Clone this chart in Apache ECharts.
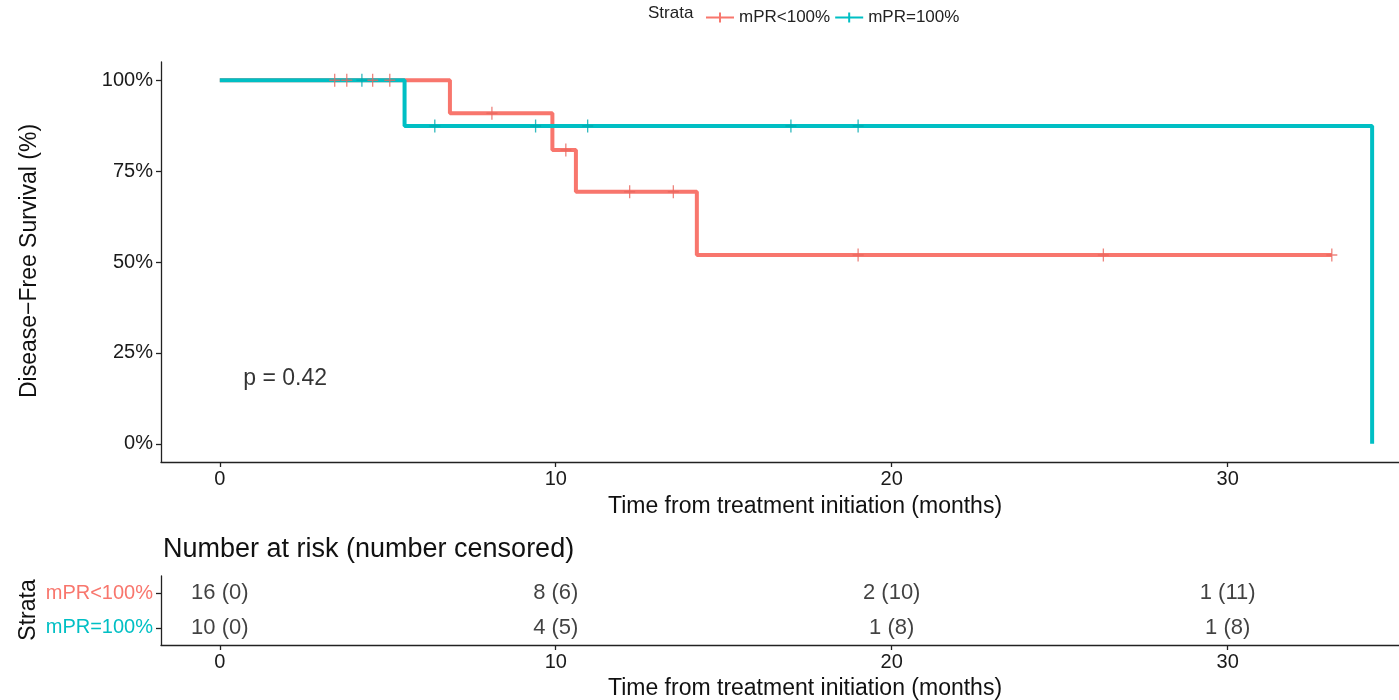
<!DOCTYPE html>
<html>
<head>
<meta charset="utf-8">
<script src="https://cdn.jsdelivr.net/npm/echarts@6/dist/echarts.min.js"></script>
<style>html,body{margin:0;padding:0;background:#fff;}#c{width:1399px;height:700px;}</style>
</head>
<body>
<div id="c"></div>
<script>
// ---- data ----
var strata = ['mPR<100%', 'mPR=100%'];
var colors = ['#F8766D', '#00BFC4'];
var xTicks = [0, 10, 20, 30];
var yTicks = [0, 25, 50, 75, 100];

// step survival curves [months, survival %]
var curveLow = [[0, 100], [6.85, 90.9], [9.9, 80.8], [10.6, 69.3], [14.2, 51.9], [33.1, 51.9]];
var curveFull = [[0, 100], [5.5, 87.4], [34.3, 87.4], [34.3, 0]];

// censor marks [months, survival %]
var censorLow = [[3.42, 100], [3.78, 100], [4.55, 100], [5.06, 100], [8.1, 90.9], [10.3, 80.8],
                 [12.2, 69.3], [13.5, 69.3], [19.0, 51.9], [26.3, 51.9], [33.1, 51.9]];
var censorFull = [[4.23, 100], [6.4, 87.4], [9.4, 87.4], [10.95, 87.4], [17.0, 87.4], [19.0, 87.4]];

// number at risk table
var riskTimes = [0, 10, 20, 30];
var riskLow = ['16 (0)', '8 (6)', '2 (10)', '1 (11)'];
var riskFull = ['10 (0)', '4 (5)', '1 (8)', '1 (8)'];

var pText = 'p = 0.42';
var pPos = [0.7, 18];

// ---- chart ----
var FONT = '"Liberation Sans", Arial, sans-serif';
var plusPath = 'path://M-0.12,-1H0.12V-0.12H1V0.12H0.12V1H-0.12V0.12H-1V-0.12H-0.12Z';
var legendIcon = 'path://M0,4H13V0H15V4H28V6H15V10H13V6H0Z';

function riskData(vals, row) {
  return riskTimes.map(function (t, i) { return [t, row, vals[i]]; });
}

var xMin = -1.75, xMax = 35.1;
var axisLineStyle = { color: '#222', width: 1.3 };

var option = {
  animation: false,
  backgroundColor: '#fff',
  textStyle: { fontFamily: FONT },
  legend: {
    left: 701, top: 4,
    itemWidth: 28, itemHeight: 10, itemGap: 5,
    textStyle: { fontSize: 17, color: '#222', fontFamily: FONT },
    data: [
      { name: strata[0], icon: legendIcon, itemStyle: { color: colors[0] } },
      { name: strata[1], icon: legendIcon, itemStyle: { color: colors[1] } }
    ]
  },
  grid: [
    { left: 161, top: 62, width: 1238, height: 400 },
    { left: 161, top: 576, width: 1238, height: 69 }
  ],
  xAxis: [
    {
      gridIndex: 0, type: 'value', min: xMin, max: xMax,
      axisLine: { show: true, onZero: false, lineStyle: axisLineStyle },
      axisTick: { show: true, length: 5, lineStyle: axisLineStyle, customValues: xTicks },
      axisLabel: { fontSize: 20, color: '#1a1a1a', margin: 7, customValues: xTicks },
      splitLine: { show: false }
    },
    {
      gridIndex: 1, type: 'value', min: xMin, max: xMax,
      axisLine: { show: true, onZero: false, lineStyle: axisLineStyle },
      axisTick: { show: true, length: 5, lineStyle: axisLineStyle, customValues: xTicks },
      axisLabel: { fontSize: 20, color: '#1a1a1a', margin: 7, customValues: xTicks },
      splitLine: { show: false }
    }
  ],
  yAxis: [
    {
      gridIndex: 0, type: 'value', min: -5, max: 105,
      axisLine: { show: true, onZero: false, lineStyle: axisLineStyle },
      axisTick: { show: true, length: 5, lineStyle: axisLineStyle, customValues: yTicks },
      axisLabel: { fontSize: 20, color: '#1a1a1a', margin: 8, customValues: yTicks,
        formatter: function (v) { return v + '%'; } },
      splitLine: { show: false }
    },
    {
      gridIndex: 1, type: 'category', data: strata, inverse: true,
      axisLine: { show: true, onZero: false, lineStyle: axisLineStyle },
      axisTick: { show: true, length: 5, alignWithLabel: true, lineStyle: axisLineStyle },
      axisLabel: {
        fontSize: 20, margin: 8,
        formatter: function (v, i) { return '{s' + i + '|' + v + '}'; },
        rich: { s0: { color: colors[0], fontSize: 20 }, s1: { color: colors[1], fontSize: 20 } }
      },
      splitLine: { show: false }
    }
  ],
  series: [
    {
      name: strata[0], type: 'line', step: 'end', xAxisIndex: 0, yAxisIndex: 0,
      data: curveLow, showSymbol: false, symbol: 'none',
      lineStyle: { color: colors[0], width: 4 }, itemStyle: { color: colors[0] }, z: 2
    },
    {
      name: strata[1], type: 'line', step: 'end', xAxisIndex: 0, yAxisIndex: 0,
      data: curveFull, showSymbol: false, symbol: 'none',
      lineStyle: { color: colors[1], width: 4 }, itemStyle: { color: colors[1] }, z: 3
    },
    {
      name: strata[0], type: 'scatter', xAxisIndex: 0, yAxisIndex: 0,
      data: censorLow, symbol: plusPath, symbolSize: [11, 13],
      itemStyle: { color: '#e8675e' }, z: 4
    },
    {
      name: strata[1], type: 'scatter', xAxisIndex: 0, yAxisIndex: 0,
      data: censorFull, symbol: plusPath, symbolSize: [11, 13],
      itemStyle: { color: '#00a9ae' }, z: 5
    },
    {
      type: 'scatter', xAxisIndex: 0, yAxisIndex: 0,
      data: [pPos], symbolSize: 0, silent: true,
      label: { show: true, position: 'inside', formatter: pText, fontSize: 23, color: '#000', fontFamily: FONT, align: 'left' }
    },
    {
      type: 'scatter', xAxisIndex: 1, yAxisIndex: 1, symbolSize: 0, silent: true,
      data: riskData(riskLow, 0),
      label: { show: true, position: 'inside', fontSize: 22, color: '#111', fontFamily: FONT,
        formatter: function (p) { return p.data[2]; } }
    },
    {
      type: 'scatter', xAxisIndex: 1, yAxisIndex: 1, symbolSize: 0, silent: true,
      data: riskData(riskFull, 1),
      label: { show: true, position: 'inside', fontSize: 22, color: '#111', fontFamily: FONT,
        formatter: function (p) { return p.data[2]; } }
    }
  ],
  graphic: [
    { type: 'text', left: 648, top: 5, style: { text: 'Strata', fontSize: 17, fill: '#222', fontFamily: FONT } },
    { type: 'text', x: 30, y: 261, rotation: Math.PI / 2,
      style: { text: 'Disease\u2212Free Survival (%)', fontSize: 23, fill: '#111', fontFamily: FONT, align: 'center', verticalAlign: 'middle' } },
    { type: 'text', x: 805, y: 507,
      style: { text: 'Time from treatment initiation (months)', fontSize: 23, fill: '#111', fontFamily: FONT, align: 'center', verticalAlign: 'middle' } },
    { type: 'text', x: 163, y: 550,
      style: { text: 'Number at risk (number censored)', fontSize: 27, fill: '#111', fontFamily: FONT, align: 'left', verticalAlign: 'middle' } },
    { type: 'text', x: 29, y: 610, rotation: Math.PI / 2,
      style: { text: 'Strata', fontSize: 23, fill: '#111', fontFamily: FONT, align: 'center', verticalAlign: 'middle' } },
    { type: 'text', x: 805, y: 689,
      style: { text: 'Time from treatment initiation (months)', fontSize: 23, fill: '#111', fontFamily: FONT, align: 'center', verticalAlign: 'middle' } }
  ]
};

var chart = echarts.init(document.getElementById('c'), null, { renderer: 'canvas' });
chart.setOption(option);
</script>
</body>
</html>
